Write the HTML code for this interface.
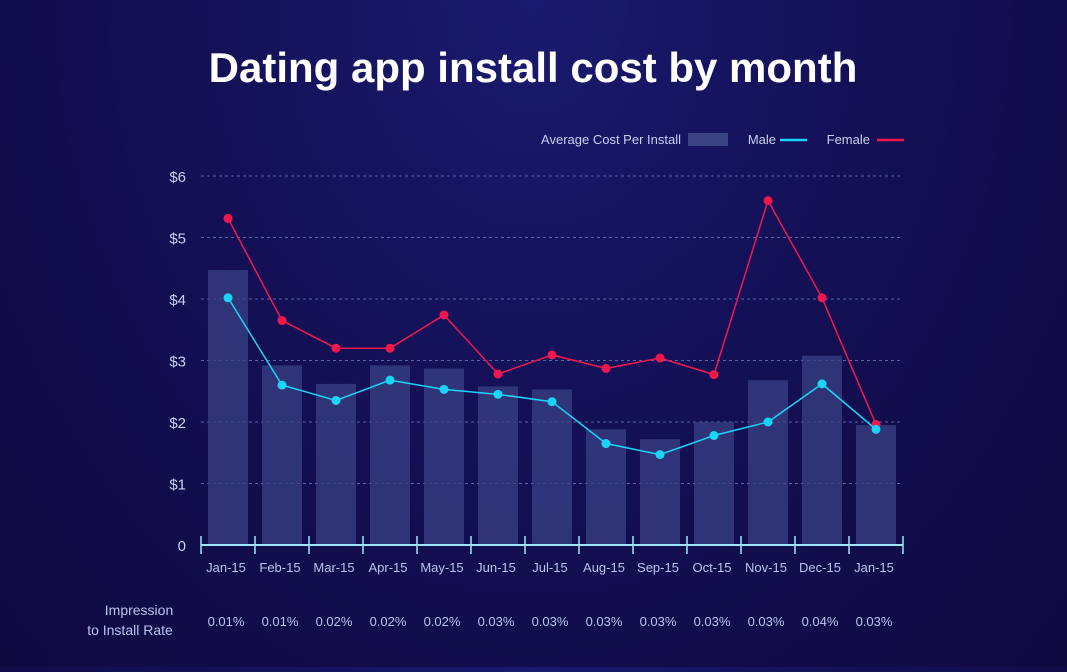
<!DOCTYPE html>
<html><head><meta charset="utf-8"><style>
body{margin:0;width:1067px;height:667px;overflow:hidden;background:radial-gradient(ellipse at 50% 0%,#1a1a6e 0%,#131056 45%,#0f0a40 100%);font-family:"Liberation Sans",sans-serif}
</style></head><body>
<svg width="1067" height="667">
<text x="533" y="82" text-anchor="middle" fill="#fff" font-size="42" font-weight="bold">Dating app install cost by month</text>
<g font-size="13" fill="#c8d0f0">
<text x="681" y="144" text-anchor="end">Average Cost Per Install</text>
<rect x="688" y="133" width="40" height="13" fill="#3a4284"/>
<text x="776" y="144" text-anchor="end">Male</text>
<line x1="780" y1="140" x2="807" y2="140" stroke="#1ad4f5" stroke-width="2.5"/>
<text x="870" y="144" text-anchor="end">Female</text>
<line x1="877" y1="140" x2="904" y2="140" stroke="#f0174f" stroke-width="2.5"/>
</g>
<g id="plot"></g>
<text x="141" y="615" text-anchor="middle" fill="#b8c4ee" font-size="14"><tspan x="139">Impression</tspan><tspan x="130" dy="20">to Install Rate</tspan></text>
</svg>
<script>
const categories=["Jan-15","Feb-15","Mar-15","Apr-15","May-15","Jun-15","Jul-15","Aug-15","Sep-15","Oct-15","Nov-15","Dec-15","Jan-15"];
const avgCost=[4.47,2.92,2.62,2.92,2.87,2.58,2.53,1.88,1.72,2.0,2.68,3.08,1.95];
const male=[4.02,2.6,2.35,2.68,2.53,2.45,2.33,1.65,1.47,1.78,2.0,2.62,1.88];
const female=[5.31,3.65,3.2,3.2,3.74,2.78,3.09,2.87,3.04,2.77,5.6,4.02,1.96];
const rates=["0.01%","0.01%","0.02%","0.02%","0.02%","0.03%","0.03%","0.03%","0.03%","0.03%","0.03%","0.04%","0.03%"];
const yTicks=[0,1,2,3,4,5,6];
const yLabels=["0","$1","$2","$3","$4","$5","$6"];
const NS="http://www.w3.org/2000/svg";
const g=document.getElementById('plot');
const X0=201,X1=903,Y0=545,YT=176;
const band=(X1-X0)/categories.length;
const xc=i=>X0+band*(i+0.5);
const y=v=>Y0-(Y0-YT)*v/6;
function mk(t,a,p){const e=document.createElementNS(NS,t);for(const k in a)e.setAttribute(k,a[k]);(p||g).appendChild(e);return e;}
yTicks.forEach((v,i)=>{
 if(v>0){const l=mk('line',{x1:X0,x2:X1,y1:y(v),y2:y(v),stroke:'#5a63a8','stroke-dasharray':'3,3','stroke-width':1});
 
 }
 const t=mk('text',{x:186,y:y(v)+6,'text-anchor':'end',fill:'#c8d0f0','font-size':15});t.textContent=yLabels[i];
 
 
});
avgCost.forEach((v,i)=>{
 const r=mk('rect',{x:xc(i)-20,y:y(v),width:40,height:Y0-y(v),fill:'#3a4284','fill-opacity':0.75});
 
 
});
const ax=mk('line',{x1:X0,x2:X1,y1:Y0,y2:Y0,stroke:'#9fe6fa','stroke-width':2});


for(let i=0;i<=categories.length;i++){
 const tk=mk('line',{x1:X0+band*i,x2:X0+band*i,y1:Y0-9,y2:Y0+9,stroke:'#9fe6fa','stroke-width':1.5});
 
 
}
categories.forEach((c,i)=>{
 const t=mk('text',{x:xc(i)-2,y:572,'text-anchor':'middle',fill:'#b8c4ee','font-size':13});t.textContent=c;
 
 
 const r=mk('text',{x:xc(i)-2,y:626,'text-anchor':'middle',fill:'#b8c4ee','font-size':13});r.textContent=rates[i];
 
 
});
function series(vals,col,name){
 const pl=mk('polyline',{points:vals.map((v,i)=>xc(i)+','+y(v)).join(' '),fill:'none',stroke:col,'stroke-width':1.5});
 
 
 vals.forEach((v,i)=>{const c=mk('circle',{cx:xc(i),cy:y(v),r:4.5,fill:col});
 
 });
}
series(female,'#f0174f','female');
series(male,'#1ad4f5','male');
</script>
</body></html>
